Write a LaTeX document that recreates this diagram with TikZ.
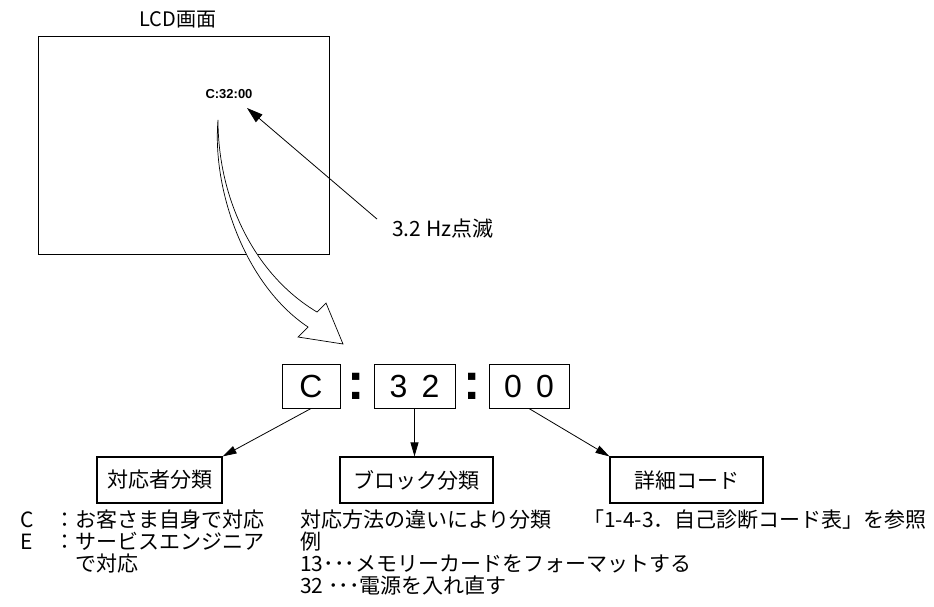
\documentclass[tikz,border=0pt]{standalone}
\usepackage{fontspec}
\newfontfamily\jpfont{Noto Sans CJK JP}
\newfontfamily\lcdfont{Liberation Sans}
\usetikzlibrary{arrows.meta}

\begin{document}
\begin{tikzpicture}[x=1pt, y=-1pt,
  txt/.style={inner sep=0pt, anchor=base west, font=\jpfont\fontsize{21}{21}\selectfont},
  digbox/.style={draw, line width=1pt, minimum height=44pt, inner sep=0pt, font=\lcdfont\fontsize{32}{32}\selectfont},
  catbox/.style={draw, line width=1.2pt, minimum width=153pt, minimum height=46pt, inner sep=0pt, font=\jpfont\fontsize{21}{21}\selectfont},
  sep/.style={inner sep=0pt, font=\lcdfont\bfseries\fontsize{52}{52}\selectfont},
  tip/.style={-{Triangle[length=14pt,width=8pt]}, line width=0.8pt}
]
\useasboundingbox (0,0) rectangle (934,606);

% LCD screen
\node[draw, line width=0.9pt, minimum width=291pt, minimum height=218pt, inner sep=0pt] (lcd) at (183.5,145) {};
\node[inner sep=0pt, font=\jpfont\fontsize{20}{20}\selectfont] (lcdtitle) at (178,20) {LCD画面};
\node[inner sep=0pt, font=\lcdfont\bfseries\fontsize{13}{13}\selectfont] (lcdcode) at (229,94) {C:32:00};
\coordinate (blink) at (247,108);
\node[txt] (hz) at (392,236) {3.2 Hz点滅};
\draw[-{Triangle[length=16pt,width=10pt]}, line width=0.8pt] ([shift={(-15,-9)}]hz.west) -- (blink);

% hollow curved arrow
\draw[line width=0.7pt, fill=white] (218,120) .. controls (212,190) and (245,285) .. (308,327)
  -- (298,337) -- (343,344) -- (326,303) -- (317,312)
  .. controls (255,275) and (218,200) .. (218,120) -- cycle;

% code fields
\node[digbox, minimum width=58pt] (dc) at (311,386) {C};
\node[sep] (s1) at (356.5,386) {:};
\node[digbox, minimum width=81pt] (d32) at (414.5,386) {3\hspace{0.45em}2};
\node[sep] (s2) at (472,386) {:};
\node[digbox, minimum width=80pt] (d00) at (529,386) {0\hspace{0.45em}0};

% categories
\node[catbox, minimum width=125pt] (who) at (159.5,480) {対応者分類};
\node[catbox] (block) at (416.5,480) {ブロック分類};
\node[catbox] (detail) at (686.5,480) {詳細コード};

\draw[tip] (dc.south) -- (who.north east);
\draw[tip] (d32.south) -- (d32.south |- block.north);
\draw[tip] (d00.south) -- (detail.north west);

% descriptions
\node[txt] (c) at (20,527) {C};
\node[txt] (cdesc) at (54,527) {：お客さま自身で対応};
\node[txt] (e) at (20,549) {E};
\node[txt] (edesc) at (54,549) {：サービスエンジニア};
\node[txt] (edesc2) at (75,571) {で対応};
\node[txt] (bdesc) at (300,527) {対応方法の違いにより分類};
\node[txt] (ex) at (300,549) {例};
\node[txt] (ex13) at (300,571) {13･･･メモリーカードをフォーマットする};
\node[txt] (ex32) at (300,593) {32 ･･･電源を入れ直す};
\node[txt] (ddesc) at (583,527) {「1-4-3．自己診断コード表」を参照};
\end{tikzpicture}
\end{document}
